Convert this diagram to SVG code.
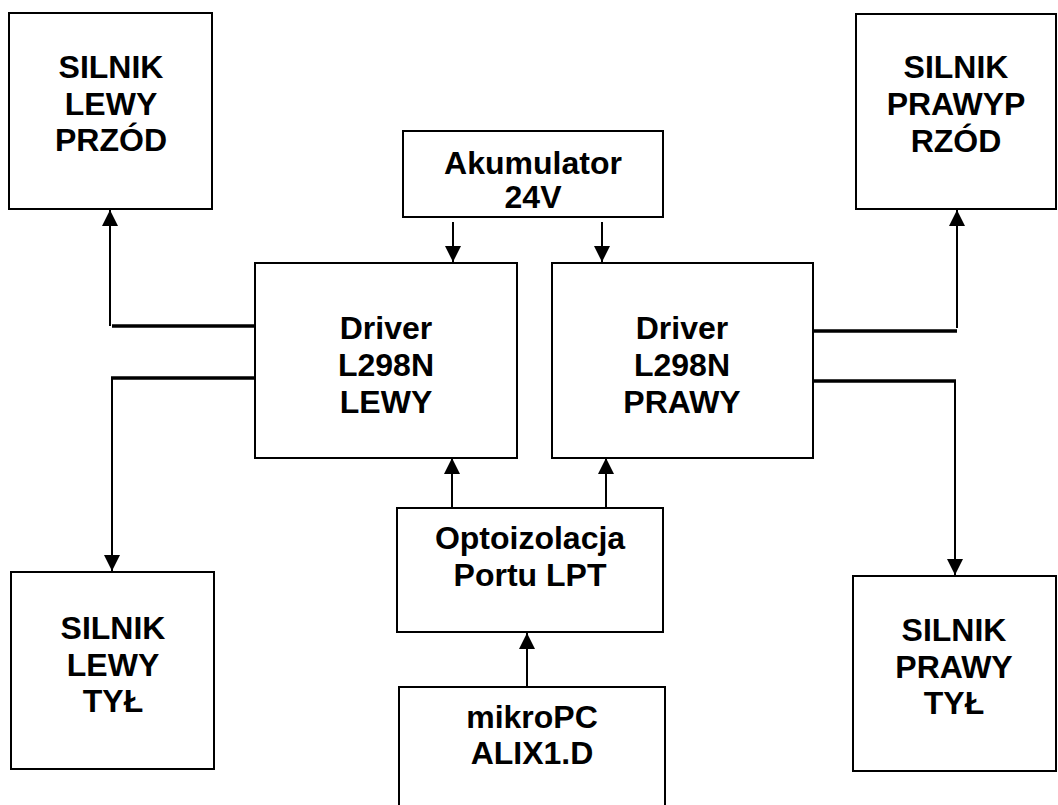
<svg xmlns="http://www.w3.org/2000/svg" width="1058" height="805" viewBox="0 0 1058 805">
<style>
.box{fill:#fff;stroke:#000;stroke-width:2}
.t{font-family:"Liberation Sans",Arial,sans-serif;font-weight:bold;font-size:32px;text-anchor:middle;fill:#000}
.c{fill:none;stroke:#000;stroke-width:2}
.h{fill:none;stroke:#000;stroke-width:3.5}
</style>
<defs>
<marker id="arr" markerUnits="userSpaceOnUse" markerWidth="18" markerHeight="18" refX="16" refY="8" orient="auto">
<path d="M0,0 L16,8 L0,16 z" fill="#000"/>
</marker>
</defs>
<rect width="1058" height="805" fill="#fff"/>
<g id="silnik-lewy-przod">
<rect class="box" x="9" y="13" width="203" height="196"/>
<text class="t" x="111" y="78">SILNIK</text>
<text class="t" x="111" y="115">LEWY</text>
<text class="t" x="111" y="151">PRZÓD</text>
</g>
<g id="silnik-prawy-przod">
<rect class="box" x="856" y="14" width="200" height="195"/>
<text class="t" x="956" y="78">SILNIK</text>
<text class="t" x="956" y="115">PRAWYP</text>
<text class="t" x="956" y="152">RZÓD</text>
</g>
<g id="akumulator">
<rect class="box" x="403" y="131" width="260" height="86"/>
<text class="t" x="533" y="174">Akumulator</text>
<text class="t" x="533" y="208">24V</text>
</g>
<g id="driver-lewy">
<rect class="box" x="255" y="263" width="262" height="195"/>
<text class="t" x="386" y="339">Driver</text>
<text class="t" x="386" y="376">L298N</text>
<text class="t" x="386" y="413">LEWY</text>
</g>
<g id="driver-prawy">
<rect class="box" x="552" y="263" width="261" height="195"/>
<text class="t" x="682" y="339">Driver</text>
<text class="t" x="682" y="376">L298N</text>
<text class="t" x="682" y="413">PRAWY</text>
</g>
<g id="optoizolacja">
<rect class="box" x="397" y="508" width="266" height="124"/>
<text class="t" x="530" y="549">Optoizolacja</text>
<text class="t" x="530" y="586">Portu LPT</text>
</g>
<g id="mikropc">
<rect class="box" x="399" y="687" width="266" height="140"/>
<text class="t" x="532" y="728">mikroPC</text>
<text class="t" x="532" y="764">ALIX1.D</text>
</g>
<g id="silnik-lewy-tyl">
<rect class="box" x="11" y="572" width="203" height="197"/>
<text class="t" x="113" y="639">SILNIK</text>
<text class="t" x="113" y="676">LEWY</text>
<text class="t" x="113" y="712">TYŁ</text>
</g>
<g id="silnik-prawy-tyl">
<rect class="box" x="853" y="576" width="203" height="195"/>
<text class="t" x="954" y="641">SILNIK</text>
<text class="t" x="954" y="678">PRAWY</text>
<text class="t" x="954" y="714">TYŁ</text>
</g>
<g id="connectors">
<line class="c" x1="453" y1="222" x2="453" y2="262" marker-end="url(#arr)"/>
<line class="c" x1="602" y1="222" x2="602" y2="262" marker-end="url(#arr)"/>
<line class="c" x1="452" y1="508" x2="452" y2="458" marker-end="url(#arr)"/>
<line class="c" x1="606" y1="508" x2="606" y2="458" marker-end="url(#arr)"/>
<line class="c" x1="527" y1="687" x2="527" y2="633" marker-end="url(#arr)"/>
<line class="h" x1="112" y1="326" x2="255" y2="326"/>
<line class="c" x1="110" y1="326" x2="110" y2="210" marker-end="url(#arr)"/>
<line class="h" x1="111" y1="378" x2="255" y2="378"/>
<line class="c" x1="112" y1="377" x2="112" y2="571" marker-end="url(#arr)"/>
<line class="h" x1="814" y1="331" x2="957" y2="331"/>
<line class="c" x1="957" y1="328" x2="957" y2="210" marker-end="url(#arr)"/>
<line class="h" x1="813" y1="381" x2="956" y2="381"/>
<line class="c" x1="955" y1="380" x2="955" y2="575" marker-end="url(#arr)"/>
</g>
</svg>
